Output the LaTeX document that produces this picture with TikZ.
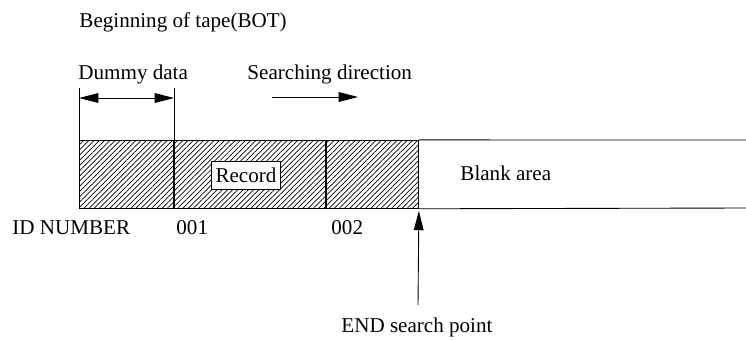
\documentclass[tikz,border=0pt]{standalone}
\usepackage{fontspec}
\setmainfont{Liberation Serif}
\usetikzlibrary{patterns.meta,arrows.meta,positioning}

\begin{document}
\begin{tikzpicture}[x=0.02cm, y=-0.02cm, >={Triangle[length=11pt,width=5.5pt]}, font=\fontsize{12}{14}\selectfont, line width=0.5pt]
\tikzstyle{segment} = [draw, rectangle, pattern={Lines[angle=45,distance=2.1pt,line width=0.4pt]}, minimum height=1.36cm, inner sep=0pt, anchor=north west]
\tikzstyle{txt} = [anchor=west, inner sep=0pt]
\tikzstyle{flow} = [draw, ->]

\useasboundingbox (0,0) rectangle (746,339);

% Titles across the top
\node [txt] (bot) at (79,22) {Beginning of tape(BOT)};
\node [txt] (dummytxt) at (78,74) {Dummy data};
\node [txt] (searchtxt) at (247,74) {Searching direction};

% Tape segments
\node [segment, minimum width=1.89cm] (dummy) at (79,140) {};
\node [segment, minimum width=3.01cm, right=0pt of dummy] (rec1) {};
\node [segment, minimum width=1.85cm, right=0pt of rec1] (rec2) {};
\node [draw, fill=white, minimum width=1.38cm, minimum height=0.56cm, inner sep=0pt] (record) at (246,175) {Record};
\coordinate (tapetop) at (746,140);
\coordinate (tapebot) at (746,208);
\draw (rec2.north east) -- (tapetop);
\draw (rec2.south east) -- (tapebot);
\node [txt] (blank) at (460,173) {Blank area};

% Dummy data span and search direction
\draw (dummy.north west) -- ++(0,-52);
\draw (dummy.north east) -- ++(0,-52);
\coordinate (dl) at (79,98);
\coordinate (dr) at (174,98);
\draw [<->] (dl) -- (dr);
\coordinate (sa) at (272,97);
\coordinate (sb) at (358,97);
\draw [flow] (sa) -- (sb);

% ID numbers
\node [txt] (idnum) at (12,228) {ID NUMBER};
\node [txt] (id1) at (176,228) {001};
\node [txt] (id2) at (331,228) {002};

% END search point
\node [txt] (endtxt) at (341,327) {END search point};
\coordinate (endfoot) at (418,305);
\draw [flow, shorten >=1.2pt] (endfoot) -- (rec2.south east);

\end{tikzpicture}
\end{document}
